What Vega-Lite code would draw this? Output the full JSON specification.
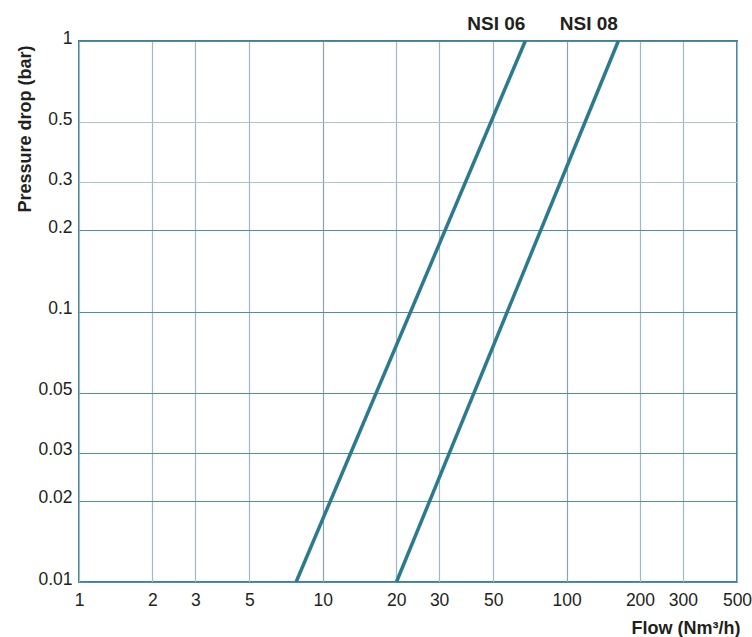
{
  "$schema": "https://vega.github.io/schema/vega-lite/v6.json",
  "width": 658,
  "height": 541,
  "autosize": {"type": "none"},
  "padding": {"left": 79, "top": 41, "right": 15, "bottom": 55},
  "background": "white",
  "config": {
    "font": "Liberation Sans",
    "view": {"stroke": "#3d8398", "strokeWidth": 2},
    "axis": {
      "labelFont": "Liberation Sans",
      "titleFont": "Liberation Sans",
      "labelColor": "#231f20",
      "titleColor": "#231f20",
      "labelFontSize": 17.5,
      "titleFontSize": 18,
      "titleFontWeight": "bold",
      "ticks": false,
      "domain": false,
      "labelFlush": false,
      "labelOverlap": false,
      "labelBound": false,
      "gridWidth": 1.2,
      "gridOpacity": 1
    }
  },
  "datasets": {
    "curves": [
      {"model": "NSI 06", "flow": 7.77, "dp": 0.01},
      {"model": "NSI 06", "flow": 67.7, "dp": 1},
      {"model": "NSI 08", "flow": 20.05, "dp": 0.01},
      {"model": "NSI 08", "flow": 163, "dp": 1}
    ],
    "labels": [
      {"model": "NSI 06", "flow": 51.5, "dp": 1},
      {"model": "NSI 08", "flow": 123.4, "dp": 1}
    ]
  },
  "layer": [
    {
      "data": {"name": "curves"},
      "mark": {"type": "line", "color": "#2b7a8e", "strokeWidth": 3.5, "strokeCap": "butt"},
      "encoding": {
        "x": {
          "field": "flow",
          "type": "quantitative",
          "scale": {"type": "log", "domain": [1, 500], "nice": false},
          "axis": {
            "values": [1, 2, 3, 5, 10, 20, 30, 50, 100, 200, 300, 500],
            "format": "~g",
            "title": "Flow (Nm³/h)",
            "labelPadding": 9,
            "labelBaseline": "top",
            "gridColor": {"condition": {"test": "datum.value == 10 || datum.value == 100", "value": "#8aa2b3"}, "value": "#9fb8c6"},
            "titleAnchor": "end",
            "titleAlign": "right",
            "titleX": 661,
            "titleY": 51,
            "titleBaseline": "alphabetic"
          }
        },
        "y": {
          "field": "dp",
          "type": "quantitative",
          "scale": {"type": "log", "domain": [0.01, 1], "nice": false},
          "axis": {
            "values": [0.01, 0.02, 0.03, 0.05, 0.1, 0.2, 0.3, 0.5, 1],
            "format": "~g",
            "title": "Pressure drop (bar)",
            "labelPadding": 7,
            "labelOffset": -3,
            "gridColor": {"condition": {"test": "datum.value == 0.5 || datum.value == 0.3", "value": "#aec3cf"}, "value": "#4f8fa3"},
            "titleAnchor": "end",
            "titleAlign": "right",
            "titleAngle": -90,
            "titleX": -54,
            "titleY": 4,
            "titleBaseline": "middle"
          }
        },
        "detail": {"field": "model"}
      }
    },
    {
      "data": {"name": "labels"},
      "mark": {"type": "text", "font": "Liberation Sans", "fontWeight": "bold", "fontSize": 19, "color": "#231f20", "baseline": "alphabetic", "align": "center", "dy": -11, "clip": false},
      "encoding": {
        "x": {"field": "flow", "type": "quantitative"},
        "y": {"field": "dp", "type": "quantitative"},
        "text": {"field": "model"}
      }
    }
  ]
}
